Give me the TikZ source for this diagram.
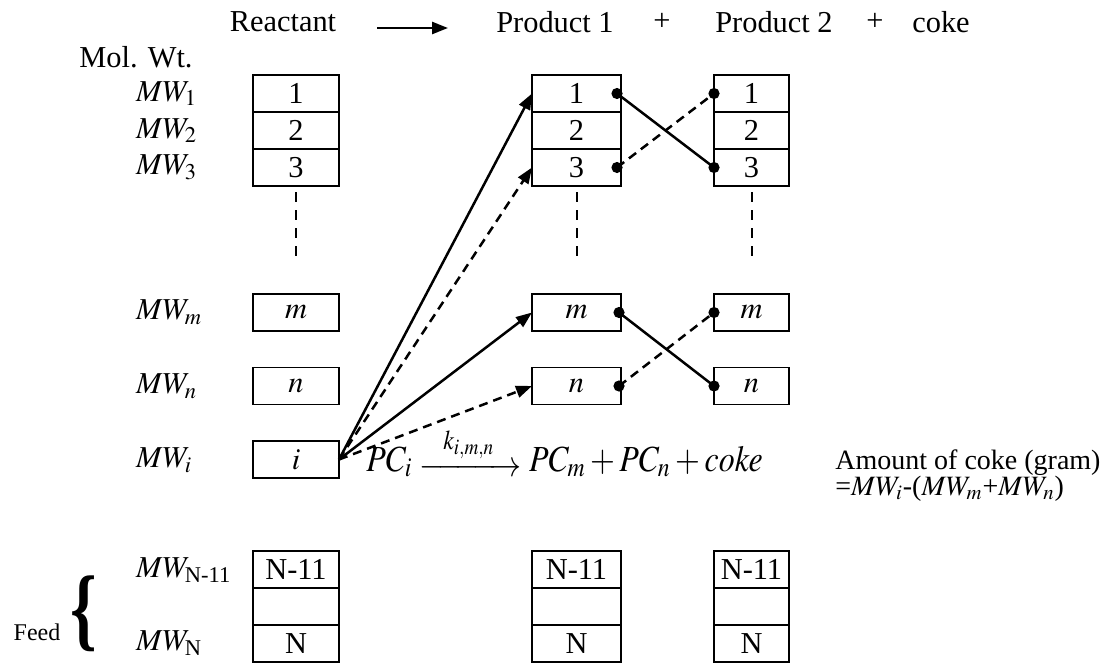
\documentclass[tikz,border=0pt]{standalone}
\usepackage{amsmath}
\usepackage{mathptmx}
\usepackage{fontspec}
\setmainfont{Liberation Serif}
\usetikzlibrary{arrows.meta}

\newcommand\rowH{18.5pt}
\newcommand\reactW{43pt}
\newcommand\prodAW{44.5pt}
\newcommand\prodBW{37.5pt}
\newcommand\reactX{296}
\newcommand\prodAX{576.5}
\newcommand\prodBX{751.5}
\newcommand\labelX{129}
\newcommand\dotR{2.8pt}

\tikzset{
  cell/.style={draw, line width=0.9pt, minimum height=\rowH, inner sep=0pt, outer sep=0pt},
  flow/.style={line width=1.25pt, -{Triangle[length=8pt,width=6pt]}},
  link/.style={line width=1.25pt},
  gapline/.style={line width=1pt, dash pattern=on 5pt off 4pt},
  dashline/.style={dash pattern=on 4.5pt off 3pt},
}

\begin{document}
\begin{tikzpicture}[x=0.5pt,y=-0.5pt,font=\fontsize{15.2}{18}\selectfont]
    \useasboundingbox (0,0) rectangle (1104,664);

    % heading
    \node (react) at (283,22) {Reactant};
    \node (prodA) at (555,22) {Product 1};
    \node (plusA) at (662,22) {+};
    \node (prodB) at (774,22) {Product 2};
    \node (plusB) at (875,22) {+};
    \node (coke) at (941,22) {coke};
    \coordinate (headS) at (377,28);
    \coordinate (headE) at (448,28);
    \draw[flow] (headS) -- (headE);

    \node (molwt) at (136,57) {Mol. Wt.};

    % molecular weight labels
    \foreach \Rnumber in {1,2,3}{
      \node[anchor=west] (mw\Rnumber) at (\labelX,56.5+37*\Rnumber) {$MW_{\Rnumber}$};
    }
    \node[anchor=west] (mwm) at (\labelX,312) {$MW_m$};
    \node[anchor=west] (mwn) at (\labelX,386) {$MW_n$};
    \node[anchor=west] (mwi) at (\labelX,460) {$MW_i$};
    \node[anchor=west] (mwNe) at (\labelX,570) {$MW_{\textrm{N-11}}$};
    \node[anchor=west] (mwNN) at (\labelX,643) {$MW_{\textrm{N}}$};

    \node (feed) at (37,632) {\fontsize{12}{14}\selectfont Feed};
    \node (brace) at (84,614) {\scalebox{1.25}[1.7]{\fontsize{27}{27}\selectfont\bfseries\{}};

    % the three columns of cells
    \foreach \col/\X/\W in {r/\reactX/\reactW, p/\prodAX/\prodAW, q/\prodBX/\prodBW}{
      \foreach \Rnumber in {1,2,3}{
        \node[cell, minimum width=\W] (\col A\Rnumber) at (\X,56.5+37*\Rnumber) {\Rnumber};
      }
      \draw[gapline] (\col A3.south) ++(0,6) -- ++(0,66);
      \node[cell, minimum width=\W] (\col M) at (\X,312.5) {$m$};
      \node[cell, minimum width=\W] (\col N) at (\X,386) {$n$};
      \node[cell, minimum width=\W] (\col B1) at (\X,569.5) {N-11};
      \node[cell, minimum width=\W] (\col B2) at (\X,606.5) {};
      \node[cell, minimum width=\W] (\col B3) at (\X,643.5) {N};
    }
    \node[cell, minimum width=\reactW] (rI) at (\reactX,459.5) {$i$};

    % cracking of i into m and n
    \draw[flow] (rI.east) -- (pA1.west);
    \draw[flow, dashline] (rI.east) -- (pA3.west);
    \draw[flow] (rI.east) -- (pM.west);
    \draw[flow, dashline] (rI.east) -- (pN.west);

    % product 1 and product 2 swapped
    \draw[link] ([xshift=-2pt]pA1.east) -- (qA3.west);
    \draw[link, dashline] ([xshift=-2pt]pA3.east) -- (qA1.west);
    \draw[link] ([xshift=-1pt]pM.east) -- (qN.west);
    \draw[link, dashline] ([xshift=-1pt]pN.east) -- (qM.west);
    \foreach \n/\s in {pA1/2pt,pA3/2pt,pM/1pt,pN/1pt}{
      \fill ([xshift=-\s]\n.east) circle (\dotR);
    }
    \foreach \n in {qA1,qA3,qM,qN}{
      \fill (\n.west) circle (\dotR);
    }

    % reaction and coke balance
    \node[anchor=base west, inner sep=0pt] (rxn) at (366,471)
      {\scalebox{1}[1.15]{\fontsize{16}{20}\selectfont
       $PC_i \mathrel{\raisebox{-2.5pt}{$\xrightarrow{\makebox[42pt]{$\scriptstyle k_{i,m,n}$}}$}} PC_m + PC_n + \mathit{coke}$}};
    \node[anchor=west, inner sep=0pt, font=\fontsize{14}{16}\selectfont] (amt) at (835,463) {Amount of coke (gram)};
    \node[anchor=west, inner sep=0pt, font=\fontsize{14}{16}\selectfont] (amtEq) at (835,489) {=$MW_i$-($MW_m$+$MW_n$)};
  \end{tikzpicture}
\end{document}
